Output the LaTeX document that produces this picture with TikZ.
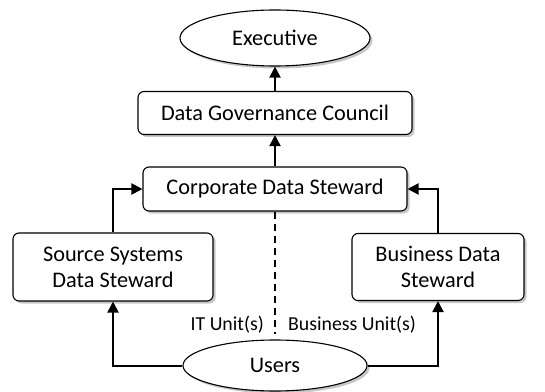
\documentclass[tikz,border=0pt]{standalone}
\usepackage{fontspec}
\setmainfont{Carlito}
\usetikzlibrary{shapes.geometric,arrows.meta,shadows}

\begin{document}
\begin{tikzpicture}[x=1pt,y=1pt,
    every node/.style={font=\fontsize{22.3}{26}\selectfont},
    box/.style={draw,rounded corners=6pt,line width=1.1pt,fill=white,align=center,inner sep=0pt,
      drop shadow={shadow xshift=2.5pt,shadow yshift=-2.5pt,fill=black!22,opacity=1}},
    oval/.style={draw,ellipse,line width=1.1pt,fill=white,inner sep=0pt,
      drop shadow={shadow xshift=2.5pt,shadow yshift=-2.5pt,fill=black!22,opacity=1}},
    link/.style={line width=2pt,-{Triangle[length=11pt,width=11pt]}},
    unit/.style={font=\fontsize{19.8}{23}\selectfont,inner sep=0pt}]
  \useasboundingbox (0,0) rectangle (545,391);
  % nodes
  \node[oval,minimum width=190pt,minimum height=56pt] (exec) at (275,353) {Executive};
  \node[box,minimum width=274pt,minimum height=43pt] (council) at (275,278) {Data Governance Council};
  \node[box,minimum width=264pt,minimum height=44pt] (corp) at (275,202) {Corporate Data Steward};
  \node[box,minimum width=200pt,minimum height=68pt] (source) at (113,124) {Source Systems\\Data Steward};
  \node[box,minimum width=172pt,minimum height=67pt] (business) at (438,124) {Business Data\\Steward};
  \node[oval,minimum width=184pt,minimum height=51pt] (users) at (275,25.5) {Users};
  % connectors
  \draw[link] (council) -- (exec);
  \draw[link] (corp) -- (council);
  \draw[link] (source.north) |- (corp.west);
  \draw[link] (business.north) |- (corp.east);
  \draw[link] (users.west) -| (source.south);
  \draw[link] (users.east) -| (business.south);
  \draw[line width=1.8pt,dash pattern=on 7pt off 5pt,shorten >=5pt] (corp.south) -- (users.north);
  % unit labels
  \node[unit,anchor=east] (it) at (264,66) {IT Unit(s)};
  \node[unit,anchor=west] (bu) at (288,66) {Business Unit(s)};
\end{tikzpicture}
\end{document}
